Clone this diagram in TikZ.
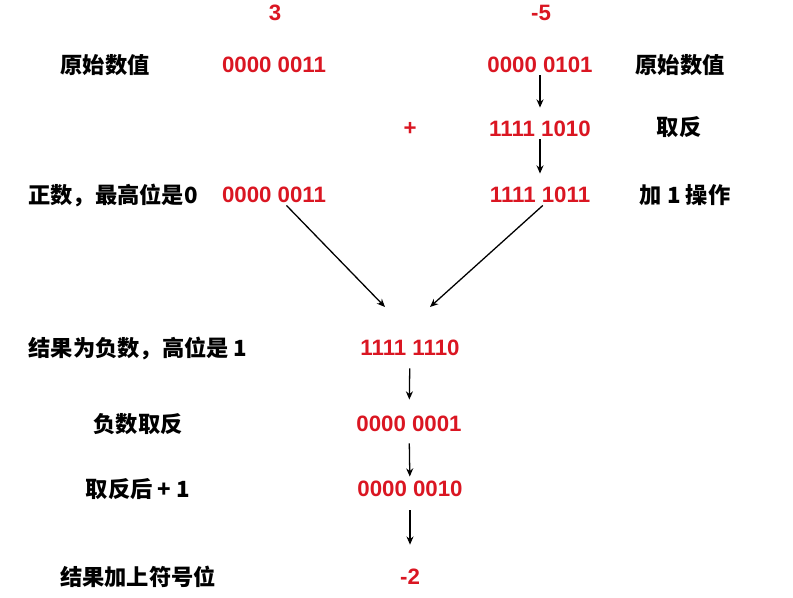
\documentclass[tikz,border=0pt]{standalone}
\usepackage{fontspec}
\setmainfont{Liberation Sans}
\newfontfamily\cjk{Noto Sans CJK SC}
\usepackage{tikz}
\usetikzlibrary{arrows.meta, positioning, calc}
\definecolor{numred}{RGB}{218,22,34}

\begin{document}
\begin{tikzpicture}[
  x=0.03cm, y=-0.03cm,
  >={Stealth[length=7pt, width=6pt]},
  numnode/.style={font=\fontsize{19}{21}\selectfont\bfseries, text=numred, inner sep=2pt},
  textnode/.style={font=\fontsize{19}{21}\selectfont\cjk\bfseries, inner sep=2pt},
  flow/.style={->, line width=1.1pt, black},
]
\useasboundingbox (0,0) rectangle (793,598);

% operands
\node[numnode] (Top_A) at (275,13) {3};
\node[numnode] (Top_B) at (541,13) {-5};

\node[textnode] (Orig_L) at (105,65) {原始数值};
\node[numnode] (A_Orig) at (274,65) {0000 0011};
\node[numnode] (B_Orig) at (540,65) {0000 0101};
\node[textnode] (Orig_R) at (680,65) {原始数值};

\node[numnode] (Plus) at (410,129) {+};
\node[numnode] (B_Inv) at (540,129) {1111 1010};
\node[textnode] (Inv_R) at (679,127) {取反};

\node[textnode] (Pos_L) at (113,195) {正数，最高位是0};
\node[numnode] (A_Comp) at (274,195) {0000 0011};
\node[numnode] (B_Comp) at (540,195) {1111 1011};
\node[textnode] (Add_R) at (685,195) {加 1 操作};

% result
\coordinate (Join_L) at (385,307);
\coordinate (Join_R) at (430,307);

\node[textnode] (Neg_L) at (138,348) {结果为负数，高位是 1};
\node[numnode] (Sum) at (410,348) {1111 1110};
\node[textnode] (NegInv_L) at (138,424) {负数取反};
\node[numnode] (Sum_Inv) at (409,424) {0000 0001};
\node[textnode] (PlusOne_L) at (138,489) {取反后 + 1};
\node[numnode] (Sum_Add) at (410,489) {0000 0010};
\node[textnode] (Sign_L) at (138,577) {结果加上符号位};
\node[numnode] (Result) at (410,577) {-2};

\draw[flow, shorten >=0.33cm] (B_Orig) -- (B_Inv);
\draw[flow, shorten >=0.33cm] (B_Inv) -- (B_Comp);

\draw[flow] (A_Comp.-40) -- (Join_L);
\draw[flow] (B_Comp.-75) -- (Join_R);

\draw[flow, shorten <=0.3cm, shorten >=0.42cm] (Sum) -- (Sum_Inv);
\draw[flow, shorten <=0.27cm, shorten >=0.06cm] (Sum_Inv) -- (Sum_Add);
\draw[flow, shorten <=0.33cm, shorten >=0.66cm] (Sum_Add) -- (Result);
\end{tikzpicture}
\end{document}
